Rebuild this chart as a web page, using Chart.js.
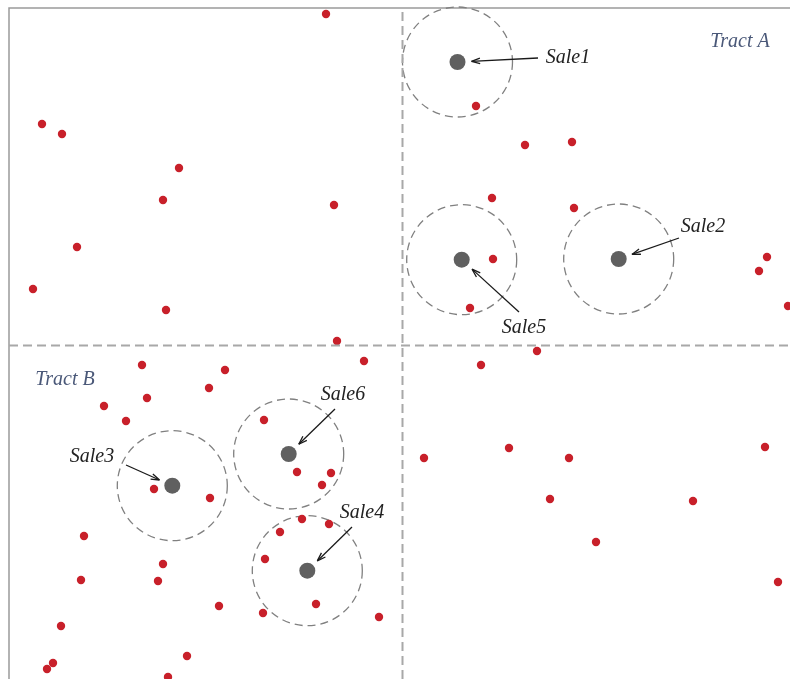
<!DOCTYPE html>
<html lang="en">
  <head>
    <script src="https://cdn.jsdelivr.net/npm/chart.js"></script>
    <style>
      body { margin: 0; background: #fff; }
    </style>
  </head>
  <body>
    <canvas id="myChart" width="790" height="679"></canvas>
    <script>
      // map units, origin bottom-left
      const parcelX = [317, 33, 53, 170, 154, 325, 68, 24, 157, 328, 467, 516, 563, 483, 565, 484, 461, 758, 750, 779,
        528, 133, 216, 200, 138, 95, 117, 355, 255, 288, 322, 313, 145, 201, 293, 320, 271, 256, 75, 154,
        72, 149, 210, 307, 254, 370, 52, 178, 44, 38, 159, 472, 415, 500, 560, 756, 541, 684, 587, 769];
      const parcelY = [665, 555, 545, 511, 479, 474, 432, 390, 369, 338, 573, 534, 537, 481, 471, 420, 371, 422, 408, 373,
        328, 314, 309, 291, 281, 273, 258, 318, 259, 207, 206, 194, 190, 181, 160, 155, 147, 120, 143, 115,
        99, 98, 73, 75, 66, 62, 53, 23, 16, 10, 2, 314, 221, 231, 221, 232, 180, 178, 137, 97];

      const saleNames = ["Sale1", "Sale2", "Sale3", "Sale4", "Sale5", "Sale6"];
      const saleX = [448.5, 609.7, 163.3, 298.3, 452.7, 279.7];
      const saleY = [617, 420, 193.3, 108.3, 419.3, 225];
      const saleRadius = 55;

      const saleLabelX = [559, 694, 83, 353, 515, 334];
      const saleLabelY = [621, 452, 222, 166, 351, 284];
      const arrowTailX = [529, 670, 117, 343, 510, 326];
      const arrowTailY = [621, 441, 214, 152, 367, 270];

      const tractNames = ["Tract A", "Tract B"];
      const tractX = [731, 56];
      const tractY = [637, 299];

      const dividerX = 393.5;
      const dividerY = 333.5;
      const xMax = 781;
      const yMax = 671;

      const points = parcelX.map((x, i) => ({ x: x, y: parcelY[i] }));
      const sales = saleX.map((x, i) => ({ x: x, y: saleY[i] }));

      const mapPlugin = {
        id: "map-extras",
        beforeDatasetsDraw(chart) {
          const { ctx, chartArea, scales } = chart;
          const xs = scales.x, ys = scales.y;
          ctx.save();
          // frame on left and top
          ctx.strokeStyle = "#9a9a9a";
          ctx.lineWidth = 1.5;
          ctx.beginPath();
          ctx.moveTo(chartArea.left, chartArea.bottom + 2);
          ctx.lineTo(chartArea.left, chartArea.top);
          ctx.lineTo(chartArea.right + 2, chartArea.top);
          ctx.stroke();
          // search circles
          ctx.strokeStyle = "#808080";
          ctx.lineWidth = 1.3;
          ctx.setLineDash([8, 5]);
          sales.forEach((s) => {
            const cx = xs.getPixelForValue(s.x);
            const cy = ys.getPixelForValue(s.y);
            const r = xs.getPixelForValue(s.x + saleRadius) - cx;
            ctx.beginPath();
            ctx.arc(cx, cy, r, 0, Math.PI * 2);
            ctx.stroke();
          });
          ctx.restore();
        },
        afterDatasetsDraw(chart) {
          const { ctx, scales } = chart;
          const xs = scales.x, ys = scales.y;
          ctx.save();
          ctx.strokeStyle = "#1a1a1a";
          ctx.fillStyle = "#1a1a1a";
          ctx.lineWidth = 1.3;
          sales.forEach((s, i) => {
            const x0 = xs.getPixelForValue(arrowTailX[i]);
            const y0 = ys.getPixelForValue(arrowTailY[i]);
            const cx = xs.getPixelForValue(s.x);
            const cy = ys.getPixelForValue(s.y);
            const len = Math.hypot(cx - x0, cy - y0);
            const ux = (cx - x0) / len, uy = (cy - y0) / len;
            const x1 = cx - ux * 14, y1 = cy - uy * 14;
            ctx.beginPath();
            ctx.moveTo(x0, y0);
            ctx.lineTo(x1, y1);
            ctx.stroke();
            // arrow head
            const a = Math.atan2(uy, ux);
            ctx.beginPath();
            ctx.moveTo(x1, y1);
            ctx.lineTo(x1 - 9 * Math.cos(a - 0.32), y1 - 9 * Math.sin(a - 0.32));
            ctx.moveTo(x1, y1);
            ctx.lineTo(x1 - 9 * Math.cos(a + 0.32), y1 - 9 * Math.sin(a + 0.32));
            ctx.stroke();
          });
          ctx.textAlign = "center";
          ctx.textBaseline = "middle";
          ctx.font = "italic 20px 'Liberation Serif', serif";
          ctx.fillStyle = "#222222";
          saleNames.forEach((n, i) => {
            ctx.fillText(n, xs.getPixelForValue(saleLabelX[i]), ys.getPixelForValue(saleLabelY[i]));
          });
          ctx.fillStyle = "#4a5878";
          tractNames.forEach((n, i) => {
            ctx.fillText(n, xs.getPixelForValue(tractX[i]), ys.getPixelForValue(tractY[i]));
          });
          ctx.restore();
        },
      };

      const ctx = document.getElementById("myChart").getContext("2d");
      new Chart(ctx, {
        type: "scatter",
        data: {
          datasets: [
            {
              type: "line",
              data: [{ x: dividerX, y: 0 }, { x: dividerX, y: yMax }],
              borderColor: "#a8a8a8",
              borderWidth: 2,
              borderDash: [9, 5],
              pointRadius: 0,
              clip: false,
            },
            {
              type: "line",
              data: [{ x: 0, y: dividerY }, { x: xMax, y: dividerY }],
              borderColor: "#a8a8a8",
              borderWidth: 2,
              borderDash: [9, 5],
              pointRadius: 0,
              clip: false,
            },
            {
              label: "Parcels",
              data: points,
              backgroundColor: "#c8202a",
              borderWidth: 0,
              pointRadius: 4.2,
              clip: false,
            },
            {
              label: "Sales",
              data: sales,
              backgroundColor: "#606060",
              borderWidth: 0,
              pointRadius: 8,
              clip: false,
            },
          ],
        },
        options: {
          responsive: false,
          animation: false,
          layout: { autoPadding: false, padding: { left: 9, top: 8, right: 0, bottom: 0 } },
          scales: {
            x: { type: "linear", min: 0, max: xMax, display: false },
            y: { type: "linear", min: 0, max: yMax, display: false },
          },
          plugins: {
            legend: { display: false },
            tooltip: { enabled: false },
          },
        },
        plugins: [mapPlugin],
      });
    </script>
  </body>
</html>
